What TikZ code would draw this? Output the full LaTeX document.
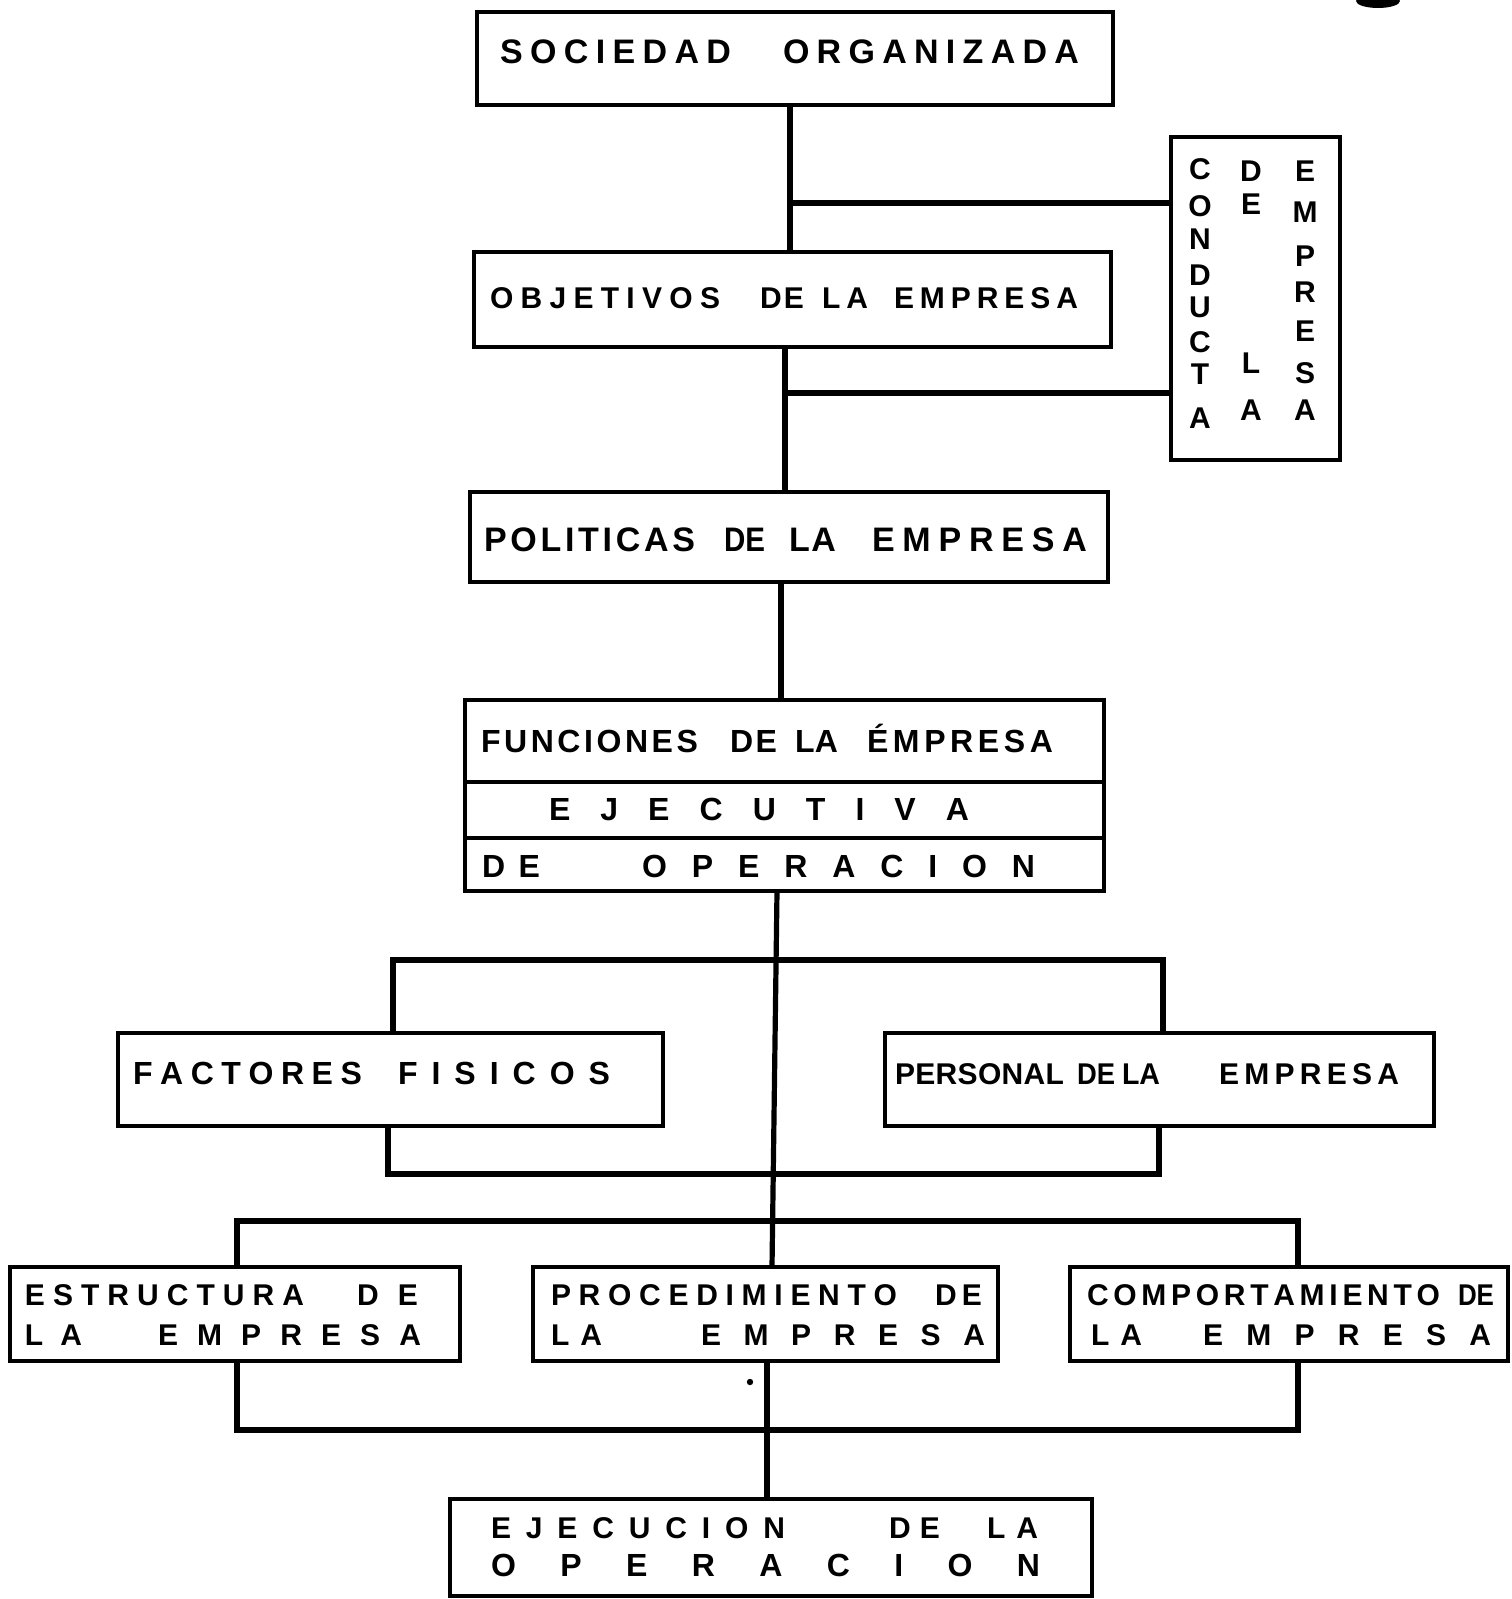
\documentclass[tikz,border=0pt]{standalone}
\usepackage{fontspec}
\usepackage{graphicx}
\setmainfont{Liberation Sans}
\usetikzlibrary{fit}
\def\sprloop#1{\ifx\relax#1\else #1\expandafter\sprnext\fi}
\def\sprnext#1{\ifx\relax#1\else\hfil #1\expandafter\sprnext\fi}
\newbox\wbox
\newdimen\wtarget
\newcommand\fitword[2]{%
  \wtarget=\dimexpr#1\relax
  \setbox\wbox\hbox{#2}%
  \ifdim\wd\wbox>\wtarget
    \edef\wA{\the\wtarget}\edef\wB{\the\wd\wbox}%
    \pgfmathsetmacro\wR{\wA/\wB}%
    \scalebox{\wR}[1]{\box\wbox}%
  \else
    \makebox[\wtarget][s]{\sprloop#2\relax}%
  \fi}
\newcommand\wrd[6]{\node[txt,anchor=base west,font=\fontsize{#5pt}{#5pt}\selectfont\bfseries] (#1) at (#2,#4) {\fitword{#3pt/2-#2pt/2}{#6}};}
\begin{document}
\begin{tikzpicture}[x=0.5pt,y=-0.5pt,
  box/.style={draw,rectangle,line width=1.6pt,inner sep=0pt,outer sep=0pt},
  divider/.style={line width=1.6pt},
  conn/.style={line width=2.6pt,line join=miter},
  txt/.style={inner sep=0pt,outer sep=0pt},
  vtxt/.style={inner sep=0pt,outer sep=0pt,anchor=base,font=\fontsize{15pt}{15pt}\selectfont\bfseries}]
\fill[white] (0,0) rectangle (1511,1599);
\useasboundingbox (0,0) rectangle (1511,1599);
% boxes
\node[box,fit={(477,12) (1113,105)}] (soc) {};
\node[box,fit={(474,252) (1111,347)}] (obj) {};
\node[box,fit={(470,492) (1108,582)}] (pol) {};
\node[box,fit={(465,700) (1104,891)}] (fun) {};
\node[box,fit={(1171,137) (1340,460)}] (cond) {};
\node[box,fit={(118,1033) (663,1126)}] (fac) {};
\node[box,fit={(885,1033) (1434,1126)}] (per) {};
\node[box,fit={(10,1267) (460,1361)}] (est) {};
\node[box,fit={(533,1267) (998,1361)}] (pro) {};
\node[box,fit={(1070,1267) (1508,1361)}] (com) {};
\node[box,fit={(450,1499) (1092,1596)}] (eje) {};
% coordinates
\coordinate (xa) at (790,0);
\coordinate (xb) at (785,0);
\coordinate (xc) at (781,0);
\coordinate (xd) at (777,0);
\coordinate (xe) at (772,0);
\coordinate (xf) at (767,0);
\coordinate (xg) at (393,0);
\coordinate (xh) at (1163,0);
\coordinate (xi) at (388,0);
\coordinate (xj) at (1159,0);
\coordinate (xk) at (237,0);
\coordinate (xl) at (1298,0);
\coordinate (ya) at (0,203);
\coordinate (yb) at (0,393);
\coordinate (yc) at (0,960);
\coordinate (yd) at (0,1174);
\coordinate (ye) at (0,1221);
\coordinate (yf) at (0,1430);
\coordinate (yg) at (0,782);
\coordinate (yh) at (0,838);
% dividers in funciones
\draw[divider] (fun.west |- yg) -- (fun.east |- yg);
\draw[divider] (fun.west |- yh) -- (fun.east |- yh);
% connectors
\draw[conn] (soc.south -| xa) -- (obj.north -| xa);
\draw[conn] (xa |- ya) -- (cond.west |- ya);
\draw[conn] (obj.south -| xb) -- (pol.north -| xb);
\draw[conn] (xb |- yb) -- (cond.west |- yb);
\draw[conn] (pol.south -| xc) -- (fun.north -| xc);
\draw[conn] (fun.south -| xd) -- (pro.north -| xe);
\draw[conn] (fac.north -| xg) -- (xg |- yc) -- (xh |- yc) -- (per.north -| xh);
\draw[conn] (fac.south -| xi) -- (xi |- yd) -- (xj |- yd) -- (per.south -| xj);
\draw[conn] (est.north -| xk) -- (xk |- ye) -- (xl |- ye) -- (com.north -| xl);
\draw[conn] (est.south -| xk) -- (xk |- yf) -- (xl |- yf) -- (com.south -| xl);
\draw[conn] (pro.south -| xf) -- (eje.north -| xf);
% texts
\wrd{tsa}{500}{731}{64}{17}{SOCIEDAD}
\wrd{tsb}{783}{1079}{64}{17}{ORGANIZADA}
\wrd{toa}{490}{720}{309}{15}{OBJETIVOS}
\wrd{tob}{760}{804}{309}{15}{DE}
\wrd{toc}{822}{868}{309}{15}{LA}
\wrd{tod}{894}{1078}{309}{15}{EMPRESA}
\wrd{tpa}{484}{695}{551}{17}{POLITICAS}
\wrd{tpb}{724}{765}{551}{17}{DE}
\wrd{tpc}{789}{836}{551}{17}{LA}
\wrd{tpd}{872}{1087}{551}{17}{EMPRESA}
\wrd{tfa}{481}{698}{752}{16}{FUNCIONES}
\wrd{tfb}{730}{777}{752}{16}{DE}
\wrd{tfc}{795}{838}{752}{16}{LA}
\wrd{tfd}{867}{1053}{752}{16}{ÉMPRESA}
\wrd{tea}{549}{969}{820}{16}{EJECUTIVA}
\wrd{tda}{482}{540}{877}{16}{DE}
\wrd{tdb}{642}{1035}{877}{16}{OPERACION}
\wrd{tga}{133}{362}{1084}{16}{FACTORES}
\wrd{tgb}{398}{610}{1084}{16}{FISICOS}
\wrd{tha}{895}{1064}{1084}{15}{PERSONAL}
\wrd{thb}{1077}{1115}{1084}{15}{DE}
\wrd{thc}{1122}{1160}{1084}{15}{LA}
\wrd{thd}{1219}{1399}{1084}{15}{EMPRESA}
\wrd{tia}{25}{304}{1305}{15}{ESTRUCTURA}
\wrd{tib}{357}{418}{1305}{15}{DE}
\wrd{tic}{25}{82}{1345}{15}{LA}
\wrd{tid}{158}{421}{1345}{15}{EMPRESA}
\wrd{tja}{551}{897}{1305}{15}{PROCEDIMIENTO}
\wrd{tjb}{935}{982}{1305}{15}{DE}
\wrd{tjc}{551}{602}{1345}{15}{LA}
\wrd{tjd}{701}{985}{1345}{15}{EMPRESA}
\wrd{tka}{1087}{1440}{1305}{15}{COMPORTAMIENTO}
\wrd{tkb}{1458}{1494}{1305}{15}{DE}
\wrd{tkc}{1091}{1142}{1345}{15}{LA}
\wrd{tkd}{1203}{1491}{1345}{15}{EMPRESA}
\wrd{tla}{491}{785}{1538}{15}{EJECUCION}
\wrd{tlb}{889}{940}{1538}{15}{DE}
\wrd{tlc}{987}{1038}{1538}{15}{LA}
\wrd{tld}{491}{1040}{1576}{16}{OPERACION}
% vertical text
\foreach \l/\y [count=\i] in {C/180,O/217,N/250,D/286,U/318,C/352,T/384,A/428}
  \node[vtxt] (va\i) at (1200,\y) {\l};
\foreach \l/\y [count=\i] in {D/182,E/215,L/373,A/420}
  \node[vtxt] (vb\i) at (1251,\y) {\l};
\foreach \l/\y [count=\i] in {E/182,M/223,P/267,R/303,E/342,S/383,A/420}
  \node[vtxt] (vc\i) at (1305,\y) {\l};
% stray marks
\fill (750,1382) circle[radius=1.6pt];
\fill (1378,1) ellipse[x radius=11pt,y radius=3.5pt];
\end{tikzpicture}
\end{document}
